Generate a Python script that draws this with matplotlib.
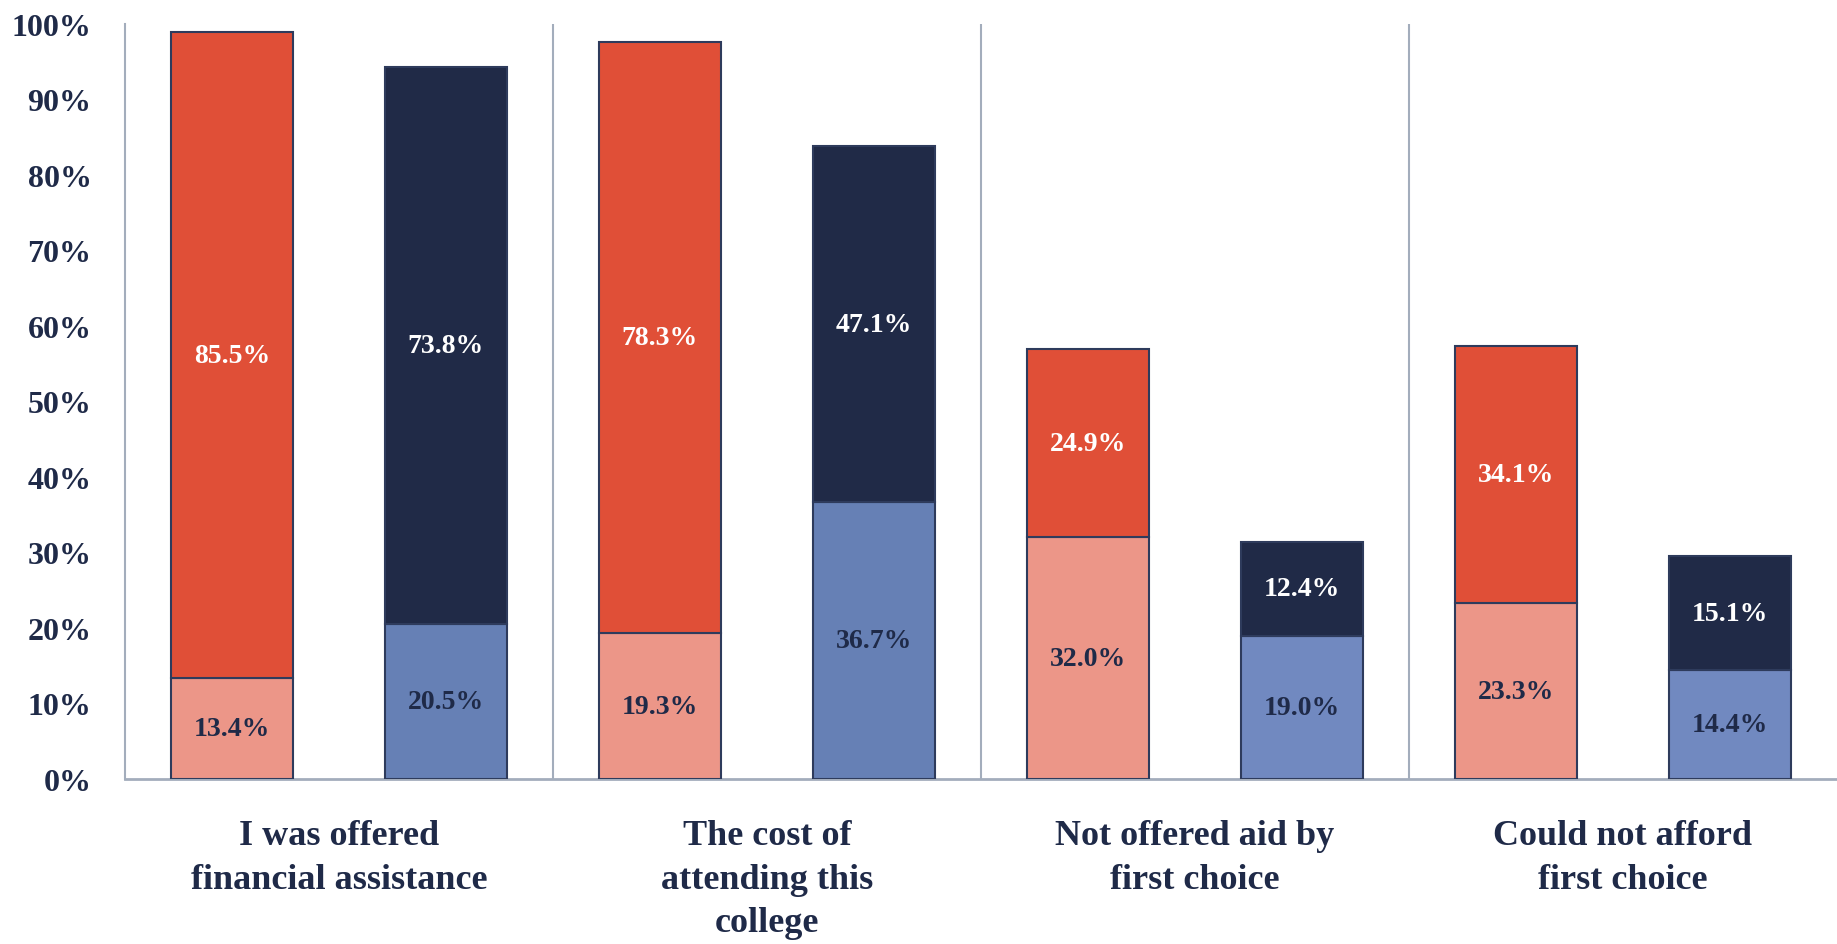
import matplotlib.pyplot as plt

categories = ["I was offered\nfinancial assistance", "The cost of\nattending this\ncollege",
              "Not offered aid by\nfirst choice", "Could not afford\nfirst choice"]
red_low = [13.4, 19.3, 32.0, 23.3]
red_high = [85.5, 78.3, 24.9, 34.1]
blue_low = [20.5, 36.7, 19.0, 14.4]
blue_high = [73.8, 47.1, 12.4, 15.1]
yticks = [0, 10, 20, 30, 40, 50, 60, 70, 80, 90, 100]

navy_text = "#1F2A48"
edge = "#2E3B5C"
c_red_low = "#EC9688"
c_red_high = "#E04F37"
c_blue_low = ["#6680B5", "#6680B5", "#7189C0", "#7189C0"]
c_blue_high = "#202A47"
sep_color = "#A3ADBC"

plt.rcParams['font.family'] = ['Liberation Serif', 'DejaVu Serif']

fig = plt.figure(figsize=(18.37, 9.45), dpi=100)
ax = fig.add_axes([0.068, 0.1746, 0.932, 0.799])

x = list(range(len(categories)))
w = 0.285
xr = [i - 0.25 for i in x]
xb = [i + 0.25 for i in x]

ax.bar(xr, red_low, w, color=c_red_low, edgecolor=edge, linewidth=1.5, zorder=3)
ax.bar(xr, red_high, w, bottom=red_low, color=c_red_high, edgecolor=edge, linewidth=1.5, zorder=3)
ax.bar(xb, blue_low, w, color=c_blue_low, edgecolor=edge, linewidth=1.5, zorder=3)
ax.bar(xb, blue_high, w, bottom=blue_low, color=c_blue_high, edgecolor=edge, linewidth=1.5, zorder=3)

lab = dict(ha='center', va='center', fontsize=20, fontweight='bold', zorder=4)
for i in x:
    ax.text(xr[i], red_low[i] / 2, f"{red_low[i]:.1f}%", color=navy_text, **lab)
    ax.text(xr[i], red_low[i] + red_high[i] / 2, f"{red_high[i]:.1f}%", color='white', **lab)
    ax.text(xb[i], blue_low[i] / 2, f"{blue_low[i]:.1f}%", color=navy_text, **lab)
    ax.text(xb[i], blue_low[i] + blue_high[i] / 2, f"{blue_high[i]:.1f}%", color='white', **lab)

for i in x[:-1]:
    ax.axvline(i + 0.5, color=sep_color, linewidth=1.5, zorder=1)

ax.set_xlim(-0.5, 3.5)
ax.set_ylim(0, 100)
ax.set_yticks(yticks)
ax.set_yticklabels([f"{t}%" for t in yticks], fontsize=23, fontweight='bold', color=navy_text)
ax.set_xticks(x)
ax.set_xticklabels(categories, fontsize=26, fontweight='bold', color=navy_text, linespacing=1.42)
ax.tick_params(axis='y', length=0, pad=24)
ax.tick_params(axis='x', length=0, pad=29)

for s in ['top', 'right']:
    ax.spines[s].set_visible(False)
ax.spines['left'].set_color(sep_color)
ax.spines['bottom'].set_color(sep_color)
ax.spines['left'].set_linewidth(1.5)
ax.spines['bottom'].set_linewidth(2)

fig.savefig("out.png", dpi=100)
